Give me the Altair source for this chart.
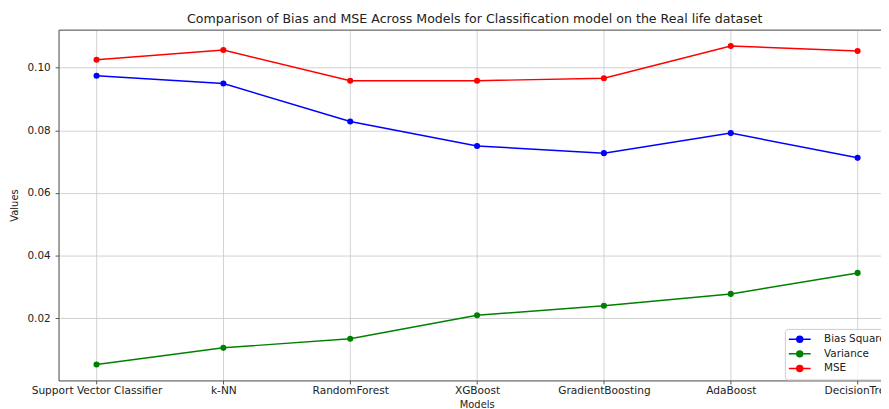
import altair as alt
import pandas as pd

models = ["Support Vector Classifier", "k-NN", "RandomForest", "XGBoost",
          "GradientBoosting", "AdaBoost", "DecisionTree"]
bias_squared = [0.0974, 0.0949, 0.0828, 0.0750, 0.0727, 0.0791, 0.0712]
variance = [0.0053, 0.0106, 0.0135, 0.0210, 0.0240, 0.0278, 0.0345]
mse = [0.1025, 0.1056, 0.0958, 0.0958, 0.0966, 0.1069, 0.1053]
series_names = ["Bias Squared", "Variance", "MSE"]
series_colors = ["#0000ff", "#008000", "#ff0000"]
y_ticks = [0.02, 0.04, 0.06, 0.08, 0.10]

rows = []
for name, vals in zip(series_names, [bias_squared, variance, mse]):
    for m, v in zip(models, vals):
        rows.append({"model": m, "metric": name, "value": v})
df = pd.DataFrame(rows)

FONT = "DejaVu Sans"
x_scale = alt.Scale(type="point", padding=0.242, align=0.619)
y_scale = alt.Scale(domain=[0.0002, 0.1121], nice=False, zero=False)
color_scale = alt.Scale(domain=series_names, range=series_colors)

x_axis = alt.Axis(title="Models", grid=True, gridColor="#cccccc", gridWidth=0.9,
                  domainColor="#555555", domainWidth=1, tickColor="#555555",
                  tickSize=3.5, labelAngle=0, labelFontSize=10.7, labelColor="#222222",
                  labelPadding=2, labelOverlap=False, labelFont=FONT,
                  titleFont=FONT, titleFontSize=10, titleFontWeight="normal",
                  titleColor="#222222", titleX=422, titleY=24,
                  titleBaseline="middle", titleAlign="center")
top_axis = alt.Axis(orient="top", title=None, labels=False, ticks=False, grid=False,
                    domainColor="#555555", domainWidth=1)
y_axis = alt.Axis(title="Values", values=y_ticks, format=".2f", grid=True,
                  gridColor="#cccccc", gridWidth=0.9, domainColor="#555555",
                  domainWidth=1, tickColor="#555555", tickSize=3.5,
                  labelFontSize=10.5, labelColor="#222222", labelPadding=5,
                  labelFont=FONT, titleFont=FONT, titleFontSize=10,
                  titleFontWeight="normal", titleColor="#222222",
                  titleX=-44, titleY=177, titleAngle=-90,
                  titleBaseline="middle", titleAlign="center")

legend = alt.Legend(title=None, orient="none", legendX=733, legendY=302,
                    direction="vertical", fillColor="rgba(255,255,255,0.8)",
                    strokeColor="#cccccc", cornerRadius=3, padding=4.5,
                    symbolType="M-2.2,0H2.2M0.6,0A0.6,0.6,0,1,1,-0.6,0A0.6,0.6,0,1,1,0.6,0",
                    symbolSize=100, symbolStrokeWidth=1.5, symbolOffset=4.5,
                    labelOffset=18.5, labelFontSize=10.5, labelColor="#222222",
                    labelFont=FONT, rowPadding=2.7)

base = alt.Chart(df)
color_enc = alt.Color("metric:N", scale=color_scale, sort=series_names, legend=legend)
y_enc = alt.Y("value:Q", scale=y_scale, axis=y_axis)

lines = base.mark_line(strokeWidth=1.5).encode(
    x=alt.X("model:N", sort=models, scale=x_scale, axis=x_axis),
    y=y_enc,
    color=color_enc,
)
points = base.mark_circle(size=38, opacity=1).encode(
    x=alt.X("model:N", sort=models, scale=x_scale, axis=None),
    y=y_enc,
    color=color_enc,
)
top = base.mark_point(opacity=0).encode(
    x=alt.X("model:N", sort=models, scale=x_scale, axis=top_axis),
    y=y_enc,
)

chart = alt.layer(lines, points, top).resolve_axis(x="independent").properties(
    width=830, height=354,
    autosize=alt.AutoSizeParams(type="none"),
    padding={"left": 51, "top": 20, "right": 0, "bottom": 27},
    title=alt.TitleParams(
        text="Comparison of Bias and MSE Across Models for Classification model on the Real life dataset",
        fontSize=12.7, fontWeight="normal", color="#222222", font=FONT,
        frame="group", anchor="middle", dx=5, offset=4),
).configure_view(stroke=None).configure(font=FONT)

chart.save("out.html", embed_options={"renderer": "svg", "actions": False})
